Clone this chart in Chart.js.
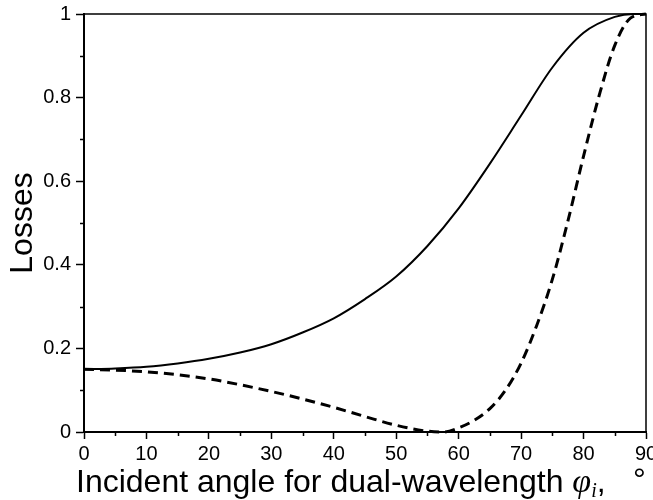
<!DOCTYPE html>
<html lang="en">
<head>
    <meta charset="UTF-8">
    <title>Losses vs incident angle</title>
    <script src="https://cdn.jsdelivr.net/npm/chart.js"></script>
    <style>
        html, body { margin: 0; padding: 0; background: #fff; }
        #wrap { width: 653px; height: 500px; }
    </style>
</head>
<body>
    <div id="wrap"><canvas id="lossChart" width="653" height="500"></canvas></div>

    <script>
        // angle (deg) and losses
        const solidAngles = [0, 5, 10, 15, 20, 25, 30, 35, 40, 45, 50, 55, 60, 65, 70, 75, 80, 85, 88, 90];
        const solidLosses = [0.150, 0.152, 0.156, 0.164, 0.175, 0.190, 0.210, 0.238, 0.272, 0.318, 0.372, 0.445, 0.535, 0.642, 0.757, 0.872, 0.955, 0.993, 1.0, 1.0];

        const dashedAngles = [0, 5, 10, 15, 20, 25, 30, 35, 40, 45, 50, 55, 57.5, 60, 62.5, 65, 67.5, 70, 72.5, 75, 77.5, 80, 82.5, 85, 87.5, 90];
        const dashedLosses = [0.150, 0.148, 0.144, 0.137, 0.127, 0.113, 0.097, 0.079, 0.059, 0.037, 0.016, 0.002, 0.0, 0.010, 0.028, 0.056, 0.100, 0.165, 0.255, 0.365, 0.505, 0.660, 0.805, 0.925, 0.990, 1.0];

        const xTicks = [0, 10, 20, 30, 40, 50, 60, 70, 80, 90];
        const xMinor = [5, 15, 25, 35, 45, 55, 65, 75, 85];
        const yTicks = [0, 0.2, 0.4, 0.6, 0.8, 1];
        const yMinor = [0.1, 0.3, 0.5, 0.7, 0.9];

        const yTitle = "Losses";
        const xTitle = "Incident angle for dual-wavelength ";

        function toPoints(xs, ys) {
            return xs.map((x, i) => ({ x: x, y: ys[i] }));
        }

        // frame, minor ticks and axis titles
        const decorPlugin = {
            id: "decor",
            afterDraw(chart) {
                const ctx = chart.ctx;
                const a = chart.chartArea;
                const sx = chart.scales.x;
                const sy = chart.scales.y;
                ctx.save();
                ctx.strokeStyle = "#000";
                ctx.lineWidth = 1.5;
                ctx.beginPath();
                ctx.moveTo(a.left, a.top);
                ctx.lineTo(a.right, a.top);
                ctx.lineTo(a.right, a.bottom);
                ctx.stroke();

                ctx.beginPath();
                xMinor.forEach(v => {
                    const px = Math.round(sx.getPixelForValue(v)) + 0.5;
                    ctx.moveTo(px, a.bottom);
                    ctx.lineTo(px, a.bottom + 4);
                });
                yMinor.forEach(v => {
                    const py = Math.round(sy.getPixelForValue(v)) + 0.5;
                    ctx.moveTo(a.left - 4, py);
                    ctx.lineTo(a.left, py);
                });
                ctx.stroke();

                ctx.fillStyle = "#000";
                // y title
                ctx.save();
                ctx.translate(32, (a.top + a.bottom) / 2);
                ctx.rotate(-Math.PI / 2);
                ctx.font = '32px "Liberation Sans"';
                ctx.textAlign = "center";
                ctx.textBaseline = "alphabetic";
                ctx.fillText(yTitle, 0, 0);
                ctx.restore();

                // x title with italic phi, subscript i and degree sign
                ctx.textAlign = "left";
                ctx.textBaseline = "alphabetic";
                const base = 492;
                let x = 76;
                ctx.font = '32px "Liberation Sans"';
                ctx.fillText(xTitle, x, base);
                x += ctx.measureText(xTitle).width;
                ctx.font = 'italic 34px "Liberation Serif"';
                ctx.fillText("\u03C6", x, base);
                x += ctx.measureText("\u03C6").width;
                ctx.font = 'italic 20px "Liberation Serif"';
                ctx.fillText("i", x, base + 5);
                x += ctx.measureText("i").width;
                ctx.font = '32px "Liberation Sans"';
                ctx.fillText(",", x, base);
                ctx.fillText("\u00B0", 633, base - 2);
                ctx.restore();
            }
        };

        new Chart(document.getElementById("lossChart"), {
            type: "line",
            data: {
                datasets: [
                    {
                        label: "solid",
                        data: toPoints(solidAngles, solidLosses),
                        borderColor: "#000",
                        borderWidth: 2,
                        pointRadius: 0,
                        fill: false,
                        cubicInterpolationMode: "monotone"
                    },
                    {
                        label: "dashed",
                        data: toPoints(dashedAngles, dashedLosses),
                        borderColor: "#000",
                        borderWidth: 3,
                        borderDash: [10, 6],
                        pointRadius: 0,
                        fill: false,
                        cubicInterpolationMode: "monotone"
                    }
                ]
            },
            options: {
                responsive: false,
                animation: false,
                clip: false,
                layout: { padding: { left: 0, right: 7, top: 14, bottom: 0 } },
                plugins: {
                    legend: { display: false },
                    tooltip: { enabled: false }
                },
                scales: {
                    x: {
                        type: "linear",
                        min: 0,
                        max: 90,
                        afterBuildTicks(scale) {
                            scale.ticks = xTicks.map(v => ({ value: v }));
                        },
                        afterFit(scale) {
                            scale.height = 68;
                            scale.paddingLeft = 0;
                            scale.paddingRight = 0;
                        },
                        ticks: {
                            color: "#000",
                            font: { family: "Liberation Sans", size: 20 },
                            maxRotation: 0,
                            autoSkip: false,
                            padding: 3
                        },
                        grid: {
                            drawOnChartArea: false,
                            drawTicks: true,
                            tickLength: 7,
                            tickColor: "#000",
                            tickWidth: 1.5
                        },
                        border: { display: true, color: "#000", width: 2 }
                    },
                    y: {
                        min: 0,
                        max: 1,
                        afterBuildTicks(scale) {
                            scale.ticks = yTicks.map(v => ({ value: v }));
                        },
                        afterFit(scale) {
                            scale.width = 84;
                            scale.paddingTop = 0;
                            scale.paddingBottom = 0;
                        },
                        ticks: {
                            color: "#000",
                            font: { family: "Liberation Sans", size: 20 },
                            padding: 5,
                            callback: v => String(Math.round(v * 10) / 10)
                        },
                        grid: {
                            drawOnChartArea: false,
                            drawTicks: true,
                            tickLength: 8,
                            tickColor: "#000",
                            tickWidth: 1.5
                        },
                        border: { display: true, color: "#000", width: 2 }
                    }
                }
            },
            plugins: [decorPlugin]
        });
    </script>
</body>
</html>
